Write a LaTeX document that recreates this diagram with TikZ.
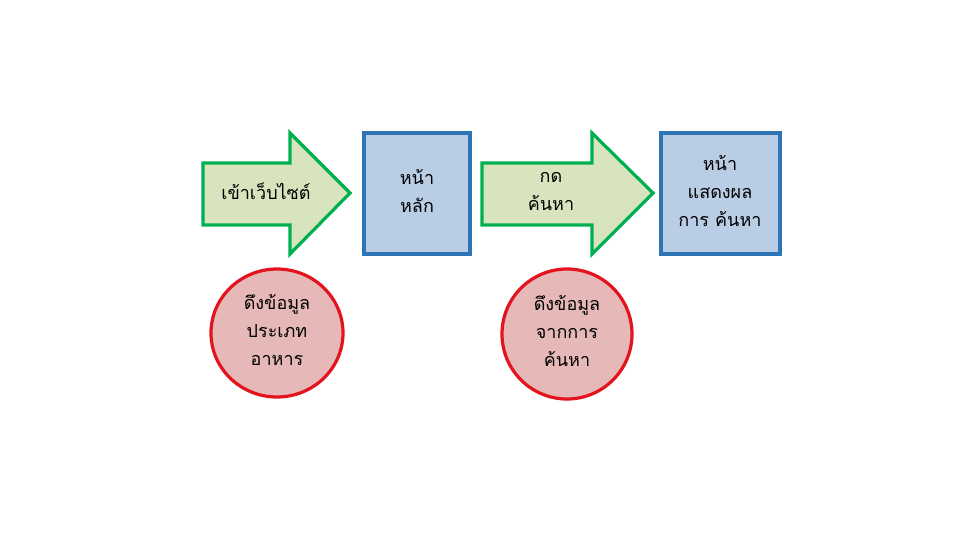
\documentclass[tikz,border=0pt]{standalone}
\usepackage{fontspec}
\newfontfamily\thaifont[Script=Thai]{Loma}
\definecolor{arrowline}{HTML}{00B050}
\definecolor{arrowfill}{HTML}{D7E4BD}
\definecolor{boxline}{HTML}{2E75B6}
\definecolor{boxfill}{HTML}{B9CDE5}
\definecolor{circleline}{HTML}{E3141E}
\definecolor{circlefill}{HTML}{E6B9B8}
\begin{document}
\begin{tikzpicture}[x=0.75pt,y=-0.75pt,
  arrowshape/.style={draw=arrowline, fill=arrowfill, line width=2.4pt, line join=miter},
  pagebox/.style={draw=boxline, fill=boxfill, line width=2.4pt},
  datacircle/.style={draw=circleline, fill=circlefill, line width=2.4pt},
  label/.style={font=\thaifont\fontsize{13.5}{21}\selectfont, align=center, inner sep=0pt}]
\useasboundingbox (0,0) rectangle (960,540);
% arrows
\draw[arrowshape] (203,163) -- (290,163) -- (290,133) -- (350,193) -- (290,254) -- (290,225) -- (203,225) -- cycle;
\draw[arrowshape] (482,163) -- (592,163) -- (592,133) -- (653,193) -- (592,254) -- (592,225) -- (482,225) -- cycle;
% pages
\draw[pagebox] (364,133) rectangle (470,254);
\draw[pagebox] (661,133) rectangle (780,254);
% data
\draw[datacircle] (277,333) ellipse [x radius=66, y radius=64];
\draw[datacircle] (567,334) ellipse [x radius=65, y radius=65];
% texts
\node[label] (enter) at (266,191) {เข้าเว็บไซต์};
\node[label] (home) at (417,191) {หน้า\\หลัก};
\node[label] (search) at (551,191) {กด\\ค้นหา};
\node[label] (result) at (720,191) {หน้า\\แสดงผล\\การ ค้นหา};
\node[label] (food) at (277,330) {ดึงข้อมูล\\ประเภท\\อาหาร};
\node[label] (fetch) at (567,331) {ดึงข้อมูล\\จากการ\\ค้นหา};
\end{tikzpicture}
\end{document}
